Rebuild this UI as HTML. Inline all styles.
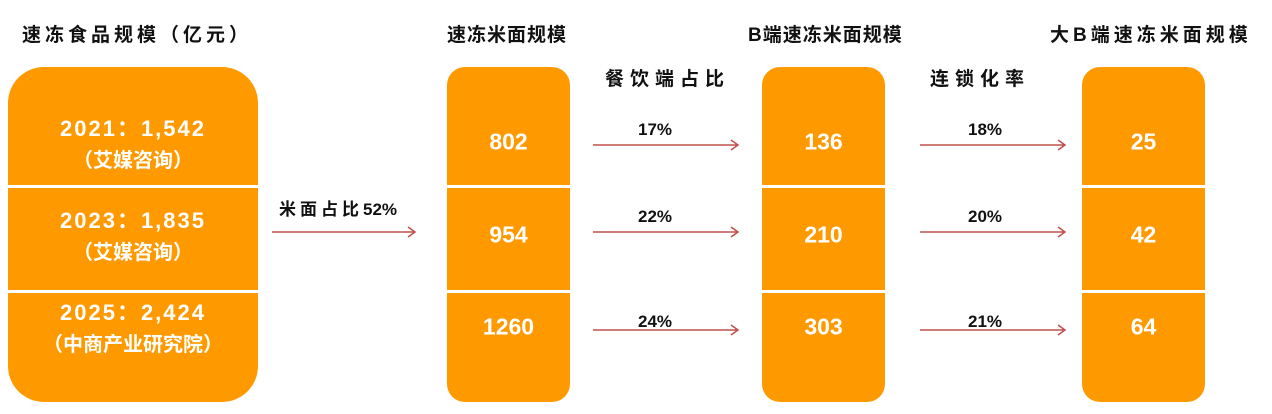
<!DOCTYPE html>
<html><head><meta charset="utf-8"><style>
body{margin:0;width:1272px;height:414px;background:#fff;position:relative;overflow:hidden;font-family:"Liberation Sans","Noto Sans CJK SC",sans-serif;font-weight:bold}
.t{position:absolute;font-size:19px;color:#111;white-space:nowrap;letter-spacing:1px}
.box{position:absolute;background:#FF9900;top:67px;height:335px}
.div{position:absolute;left:0;right:0;height:3px;background:#fff}
.v{position:absolute;left:0;right:0;text-align:center;color:#fff;font-size:23px;transform:translateY(-50%)}
.b1{font-size:20px;line-height:31px}
.b1 span{font-size:22px;letter-spacing:2px}
.lab{position:absolute;font-size:17px;color:#111;transform:translateX(-50%);white-space:nowrap}
</style></head><body>
<div class="t" style="left:22px;top:20px;letter-spacing:4px">速冻食品规模（亿元）</div>
<div class="t" style="left:447px;top:20px">速冻米面规模</div>
<div class="t" style="left:748px;top:20px">B端速冻米面规模</div>
<div class="t" style="left:1050px;top:20px;letter-spacing:4px">大B端速冻米面规模</div>
<div class="t" style="left:605px;top:64px;letter-spacing:6px">餐饮端占比</div>
<div class="t" style="left:930px;top:64px;letter-spacing:6px">连锁化率</div>

<div class="box" style="left:8px;width:250px;border-radius:36px">
 <div class="div" style="top:118px"></div><div class="div" style="top:223px"></div>
 <div class="v b1" style="top:78px"><span>2021：1,542</span><br>（艾媒咨询）</div>
 <div class="v b1" style="top:170px"><span>2023：1,835</span><br>（艾媒咨询）</div>
 <div class="v b1" style="top:262px"><span>2025：2,424</span><br>（中商产业研究院）</div>
</div>
<div class="box" style="left:447px;width:123px;border-radius:18px">
 <div class="div" style="top:118px"></div><div class="div" style="top:223px"></div>
 <div class="v" style="top:75px">802</div><div class="v" style="top:168px">954</div><div class="v" style="top:260px">1260</div>
</div>
<div class="box" style="left:762px;width:123px;border-radius:18px">
 <div class="div" style="top:118px"></div><div class="div" style="top:223px"></div>
 <div class="v" style="top:75px">136</div><div class="v" style="top:168px">210</div><div class="v" style="top:260px">303</div>
</div>
<div class="box" style="left:1082px;width:123px;border-radius:18px">
 <div class="div" style="top:118px"></div><div class="div" style="top:223px"></div>
 <div class="v" style="top:75px">25</div><div class="v" style="top:168px">42</div><div class="v" style="top:260px">64</div>
</div>

<svg width="1272" height="414" style="position:absolute;left:0;top:0">
<g stroke="#C0504D" stroke-width="1.5" fill="none">
<path d="M272 232H415M408 227L415 232L408 237"/>
<path d="M593 145H738M731 140L738 145L731 150"/>
<path d="M593 232H738M731 227L738 232L731 237"/>
<path d="M593 330H738M731 325L738 330L731 335"/>
<path d="M920 145H1065M1058 140L1065 145L1058 150"/>
<path d="M920 232H1065M1058 227L1065 232L1058 237"/>
<path d="M920 330H1065M1058 325L1065 330L1058 335"/>
</g></svg>
<div class="lab" style="left:338px;top:195px"><span style="letter-spacing:4px">米面占比</span>52%</div>
<div class="lab" style="left:655px;top:120px">17%</div>
<div class="lab" style="left:655px;top:207px">22%</div>
<div class="lab" style="left:655px;top:312px">24%</div>
<div class="lab" style="left:985px;top:120px">18%</div>
<div class="lab" style="left:985px;top:207px">20%</div>
<div class="lab" style="left:985px;top:312px">21%</div>
</body></html>
